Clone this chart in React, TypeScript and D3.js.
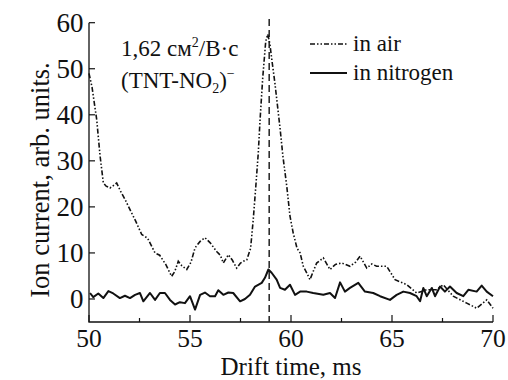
import React, { useEffect, useRef } from "react";
import * as d3 from "d3";

// drift time (ms) / ion current (arb. units) for the two gases
const airTime = [
  50.0, 50.15, 50.38, 50.55, 50.71, 50.85, 51.04, 51.2, 51.37, 51.55, 51.8, 52.03, 52.3, 52.61, 52.9,
  53.27, 53.5, 53.8, 54.09, 54.25, 54.42, 54.6, 54.84, 55.05, 55.25, 55.5, 55.74, 56.0, 56.32, 56.5,
  56.65, 56.9, 57.1, 57.31, 57.5, 57.64, 57.81, 58.0, 58.13, 58.25, 58.38, 58.47, 58.6, 58.75, 58.85,
  58.95, 59.05, 59.2, 59.46, 59.6, 59.79, 59.95, 60.11, 60.3, 60.45, 60.61, 60.8, 60.94, 61.1, 61.27,
  61.6, 61.93, 62.2, 62.51, 62.92, 63.2, 63.42, 63.75, 64.0, 64.24, 64.74, 65.15, 65.73, 66.22,
  66.72, 67.21, 67.54, 68.03, 68.7, 69.19, 69.69, 70.0,
];
const airValue = [
  49, 46, 39, 31, 25.2, 24.5, 24.1, 24.6, 25.2, 23.5, 21.5, 19.4, 17, 14, 13.2,
  10, 9.5, 7.5, 4.9, 6, 8.2, 7.2, 6.4, 8, 11.1, 12.5, 13.3, 12.2, 10.3, 9.5,
  7.8, 9.6, 8.4, 6.7, 7.8, 8.2, 8.5, 11, 17.2, 24, 31.7, 39, 48, 56, 57.5,
  55.5, 52, 47, 37, 31, 24.5, 18, 14.3, 11, 10, 7.1, 5.5, 4.2, 6, 7.8,
  8.9, 6.4, 7.5, 7.8, 7.1, 8, 9.3, 6.7, 7.6, 7.1, 7.1, 4.2, 3.1, 1.3,
  2, 2, 3.1, 0.6, -0.9, -2, -0.2, -2,
];

const nitrogenTime = [
  50.05, 50.21, 50.46, 50.71, 50.96, 51.2, 51.53, 51.78, 52.03, 52.28, 52.52, 52.69, 53.02, 53.27,
  53.51, 53.76, 54.01, 54.26, 54.5, 54.75, 55.0, 55.25, 55.5, 55.74, 55.99, 56.24, 56.4, 56.65,
  56.9, 57.14, 57.48, 57.72, 57.97, 58.22, 58.55, 58.71, 58.88, 59.04, 59.29, 59.46, 59.7, 59.95,
  60.2, 60.45, 60.78, 61.1, 61.6, 61.93, 62.18, 62.43, 62.67, 62.92, 63.33, 63.66, 64.07, 64.41,
  64.9, 65.23, 65.56, 65.89, 66.22, 66.39, 66.55, 66.72, 66.97, 67.13, 67.38, 67.62, 67.87, 68.2,
  68.53, 68.78, 69.19, 69.44, 69.69, 70.0,
];
const nitrogenValue = [
  1.3, 0.4, 1.2, 0.2, 1.7, 1.2, 0.2, 0.7, 0.2, 0.9, 1.3, -0.5, 1.3, -0.2,
  1.3, 1.3, -0.2, -1.2, -0.7, -0.9, 0.6, -2.3, 0.9, 1.4, 0.6, 0.6, 1.9, 0.9,
  1.4, 1.3, -0.5, 0, 0.9, 2.7, 3.5, 4.6, 6.4, 5.7, 4.2, 2.4, 2, 3.1,
  0.9, 1.6, 1.6, 1.3, 0.9, 1.3, 0.2, 3.6, 1.6, 2.4, 3.5, 1.6, 1.3, 0.6,
  -0.2, 0.9, 1.6, 1.3, 0.6, -0.5, 2.4, 0.6, 2.4, 0.6, 2.7, 1.6, 2.7, 1.3,
  0.6, 2, 1.6, 2.9, 1.6, 0.6,
];

const xTicks = [50, 55, 60, 65, 70];
const xMinorTicks = [52.5, 57.5, 62.5, 67.5];
const yTicks = [0, 10, 20, 30, 40, 50, 60];
const peakTime = 58.92;
const seriesNames = ["in air", "in nitrogen"];

const FONT = "'Liberation Serif', 'Times New Roman', serif";
const AIR_DASH = "5,2,1.5,2,1.5,2";

const App: React.FC = () => {
  const ref = useRef<SVGSVGElement | null>(null);

  useEffect(() => {
    const svg = d3.select(ref.current);
    svg.selectAll("*").remove();

    const left = 89,
      right = 493,
      top = 23,
      bottom = 322;

    const x = d3.scaleLinear().domain([50, 70]).range([left, right]);
    const y = d3.scaleLinear().domain([-5, 60]).range([bottom, top - 0.3]);

    const g = svg.append("g").style("font-family", FONT).attr("fill", "#111");

    // axes: left + bottom only, ticks pointing inward
    g.append("path")
      .attr("d", `M${left},${y(60)}V${bottom}H${right}`)
      .attr("fill", "none")
      .attr("stroke", "#111")
      .attr("stroke-width", 1.3);

    g.selectAll(".xt")
      .data(xTicks)
      .join("line")
      .attr("x1", (d) => x(d))
      .attr("x2", (d) => x(d))
      .attr("y1", bottom)
      .attr("y2", bottom - 7)
      .attr("stroke", "#111")
      .attr("stroke-width", 1.2);

    g.selectAll(".xm")
      .data(xMinorTicks)
      .join("line")
      .attr("x1", (d) => x(d))
      .attr("x2", (d) => x(d))
      .attr("y1", bottom)
      .attr("y2", bottom - 4)
      .attr("stroke", "#111")
      .attr("stroke-width", 1.2);

    g.selectAll(".xl")
      .data(xTicks)
      .join("text")
      .attr("x", (d) => x(d))
      .attr("y", 346.5)
      .attr("text-anchor", "middle")
      .attr("font-size", 25.5)
      .text((d) => d);

    g.selectAll(".yt")
      .data(yTicks)
      .join("line")
      .attr("x1", left)
      .attr("x2", left + 6)
      .attr("y1", (d) => y(d))
      .attr("y2", (d) => y(d))
      .attr("stroke", "#111")
      .attr("stroke-width", 1.2);

    g.selectAll(".yl")
      .data(yTicks)
      .join("text")
      .attr("x", 83.5)
      .attr("y", (d) => y(d) + 9.3)
      .attr("text-anchor", "end")
      .attr("font-size", 27)
      .text((d) => d);

    g.append("text")
      .attr("x", 291)
      .attr("y", 374.5)
      .attr("text-anchor", "middle")
      .attr("font-size", 25)
      .text("Drift time, ms");

    g.append("text")
      .attr("transform", "translate(49,180) rotate(-90)")
      .attr("text-anchor", "middle")
      .attr("font-size", 26.5)
      .text("Ion current, arb. units.");

    // dashed line marking the peak
    g.append("line")
      .attr("x1", x(peakTime))
      .attr("x2", x(peakTime))
      .attr("y1", 19)
      .attr("y2", bottom)
      .attr("stroke", "#222")
      .attr("stroke-width", 1.5)
      .attr("stroke-dasharray", "7,4");

    g.append("path")
      .attr("d", d3.line<number>().x((d) => x(d)).y((d, i) => y(airValue[i]))(airTime) ?? "")
      .attr("fill", "none")
      .attr("stroke", "#111")
      .attr("stroke-width", 1.6)
      .attr("stroke-dasharray", AIR_DASH);

    g.append("path")
      .attr(
        "d",
        d3.line<number>().x((d) => x(d)).y((d, i) => y(nitrogenValue[i]))(nitrogenTime) ?? ""
      )
      .attr("fill", "none")
      .attr("stroke", "#111")
      .attr("stroke-width", 2)
      .attr("stroke-linejoin", "round");

    // legend
    seriesNames.forEach((name, i) => {
      const ly = 44 + i * 29;
      const l = g
        .append("line")
        .attr("x1", 310)
        .attr("x2", 347)
        .attr("y1", ly)
        .attr("y2", ly)
        .attr("stroke", "#111")
        .attr("stroke-width", i === 0 ? 1.6 : 2);
      if (i === 0) l.attr("stroke-dasharray", AIR_DASH);
      g.append("text")
        .attr("x", 353)
        .attr("y", ly + 7)
        .attr("font-size", 23)
        .text(name);
    });

    // annotation
    const a1 = g.append("text").attr("x", 121).attr("y", 56).attr("font-size", 23);
    a1.append("tspan").text("1,62 см");
    a1.append("tspan").attr("font-size", 14).attr("dy", -9).text("2");
    a1.append("tspan").attr("dy", 9).text("/В·с");

    const a2 = g.append("text").attr("x", 121).attr("y", 88).attr("font-size", 23);
    a2.append("tspan").text("(TNT-NO");
    a2.append("tspan").attr("font-size", 14).attr("dy", 5).text("2");
    a2.append("tspan").attr("dy", -5).text(")");
    a2.append("tspan").attr("font-size", 14).attr("dy", -10).text("−");
  }, []);

  return (
    <svg
      ref={ref}
      width={508}
      height={380}
      style={{ position: "absolute", left: 0, top: 0, background: "#fff" }}
    />
  );
};

export default App;
